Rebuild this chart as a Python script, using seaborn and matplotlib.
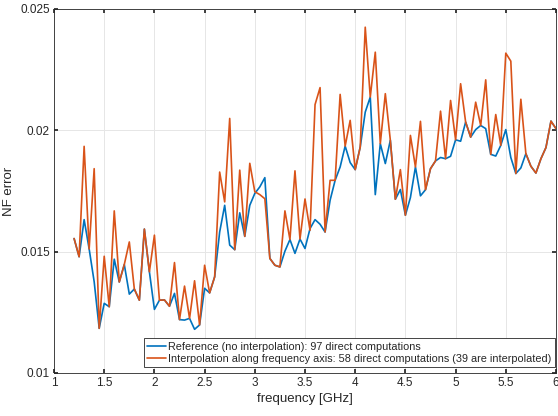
import numpy as np
import pandas as pd
import matplotlib
matplotlib.use("Agg")
import matplotlib.pyplot as plt
import seaborn as sns

# frequency axis: 97 points, 1.2 .. 6 GHz
freq = np.round(np.linspace(1.2, 6.0, 97), 3)

ref_vals = [
    0.01554, 0.01479, 0.01632, 0.01511, 0.01376, 0.01184, 0.01287, 0.01273, 0.01469, 0.01375,
    0.01447, 0.01325, 0.01346, 0.01300, 0.01593, 0.01417, 0.01262, 0.01300, 0.01301, 0.01275,
    0.01328, 0.01220, 0.01218, 0.01225, 0.01180, 0.01198, 0.01349, 0.01330, 0.01396, 0.01581,
    0.01691, 0.01527, 0.01508, 0.01660, 0.01563, 0.01691, 0.01740, 0.01767, 0.01805, 0.01472,
    0.01444, 0.01437, 0.01502, 0.01550, 0.01493, 0.01552, 0.01513, 0.01595, 0.01632, 0.01613,
    0.01581, 0.01712, 0.01794, 0.01849, 0.01935, 0.01867, 0.01838, 0.01931, 0.02075, 0.02137,
    0.01735, 0.01945, 0.01863, 0.01959, 0.01716, 0.01756, 0.01650, 0.01723, 0.01849, 0.01730,
    0.01755, 0.01842, 0.01874, 0.01888, 0.01883, 0.01893, 0.01961, 0.01955, 0.02034, 0.01972,
    0.02003, 0.02020, 0.02007, 0.01901, 0.01894, 0.01938, 0.02003, 0.01888, 0.01822, 0.01845,
    0.01904, 0.01852, 0.01824, 0.01883, 0.01929, 0.02038, 0.02007,
]

interp_vals = [
    0.01554, 0.01479, 0.01934, 0.01511, 0.01842, 0.01184, 0.01481, 0.01273, 0.01668, 0.01375,
    0.01447, 0.01540, 0.01346, 0.01300, 0.01593, 0.01417, 0.01568, 0.01300, 0.01301, 0.01275,
    0.01455, 0.01220, 0.01358, 0.01225, 0.01380, 0.01198, 0.01444, 0.01330, 0.01396, 0.01828,
    0.01705, 0.02049, 0.01508, 0.01836, 0.01563, 0.01864, 0.01747, 0.01735, 0.01718, 0.01472,
    0.01444, 0.01437, 0.01668, 0.01550, 0.01833, 0.01552, 0.01717, 0.01588, 0.02106, 0.02176,
    0.01581, 0.01794, 0.01794, 0.02148, 0.01935, 0.02041, 0.01838, 0.01931, 0.02425, 0.02137,
    0.02322, 0.01945, 0.02151, 0.01959, 0.01716, 0.01838, 0.01650, 0.01979, 0.01849, 0.02037,
    0.01755, 0.01842, 0.01874, 0.02079, 0.01883, 0.02123, 0.01961, 0.02192, 0.02034, 0.01972,
    0.02116, 0.02020, 0.02208, 0.01901, 0.02065, 0.01938, 0.02318, 0.02285, 0.01822, 0.02128,
    0.01904, 0.01852, 0.01824, 0.01883, 0.01929, 0.02038, 0.02007,
]

labels = ["Reference (no interpolation): 97 direct computations",
          "Interpolation along frequency axis: 58 direct computations (39 are interpolated)"]
xticks = [1, 1.5, 2, 2.5, 3, 3.5, 4, 4.5, 5, 5.5, 6]
xticklabels = ["1", "1.5", "2", "2.5", "3", "3.5", "4", "4.5", "5", "5.5", "6"]
yticks = [0.01, 0.015, 0.02, 0.025]
yticklabels = ["0.01", "0.015", "0.02", "0.025"]

df = pd.DataFrame({
    "freq": np.concatenate([freq, freq]),
    "err": np.array(ref_vals + interp_vals),
    "series": [labels[0]] * len(freq) + [labels[1]] * len(freq),
})

sns.set_theme(style="whitegrid")
plt.rcParams['font.family'] = ['Liberation Sans', 'DejaVu Sans']

fig = plt.figure(figsize=(5.58, 4.16), dpi=100)
ax = fig.add_axes([0.0968, 0.1034, 0.8996, 0.875])

sns.lineplot(data=df, x="freq", y="err", hue="series", ax=ax,
             palette=["#0072BD", "#D95319"], linewidth=1.2, sort=False)

ax.set_xlim(1, 6)
ax.set_ylim(0.01, 0.025)
ax.set_xticks(xticks)
ax.set_xticklabels(xticklabels)
ax.set_yticks(yticks)
ax.set_yticklabels(yticklabels)
ax.tick_params(direction="in", length=3, labelsize=8.5, colors="#262626",
               top=True, right=True, bottom=True, left=True, pad=3)
ax.grid(True, color="#e6e6e6", linewidth=0.7)
for s in ax.spines.values():
    s.set_color("#262626")
    s.set_linewidth(0.6)
ax.set_xlabel("frequency [GHz]", fontsize=9.5, color="#262626", labelpad=3)
ax.set_ylabel("NF error", fontsize=9.5, color="#262626", labelpad=4)

leg = ax.legend(loc="lower right", bbox_to_anchor=(0.998, 0.016), borderaxespad=0,
                fontsize=7.8, frameon=True, fancybox=False, framealpha=1,
                handlelength=1.7, handletextpad=0.25, borderpad=0.3, labelspacing=0.2)
leg.get_frame().set_edgecolor("#262626")
leg.get_frame().set_linewidth(0.6)

fig.savefig("out.png", dpi=100)
